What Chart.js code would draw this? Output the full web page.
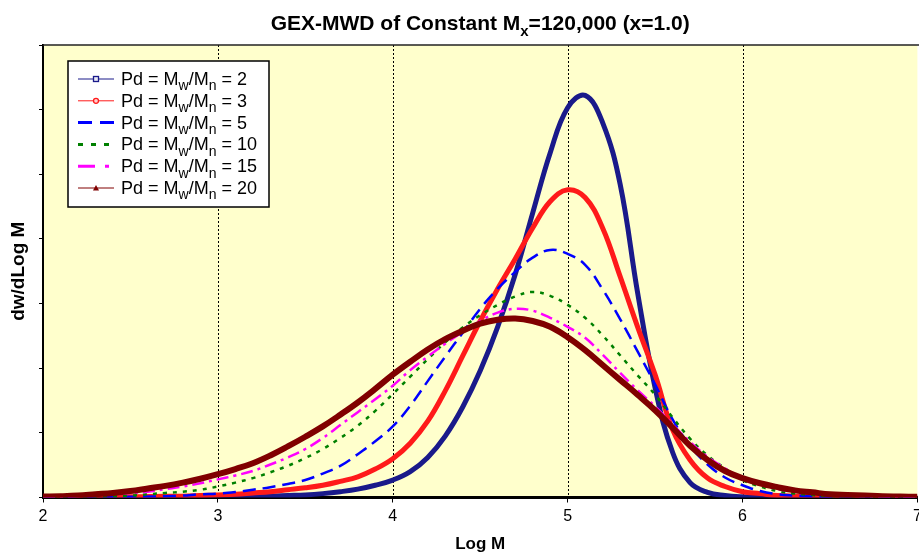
<!DOCTYPE html>
<html>
<head>
<meta charset="utf-8">
<title>GEX-MWD</title>
<script src="https://cdn.jsdelivr.net/npm/chart.js@4.4.0/dist/chart.umd.min.js"></script>
<style>
  html, body { margin: 0; padding: 0; background: #fff; overflow: hidden; }
  #wrap { width: 930px; height: 555px; }
</style>
</head>
<body>
<div id="wrap"><canvas id="mwd"></canvas></div>
<script>
// Log M axis, 0.1 steps
const logM = [
  2.0, 2.1, 2.2, 2.3, 2.4, 2.5, 2.6, 2.7, 2.8, 2.9,
  3.0, 3.1, 3.2, 3.3, 3.4, 3.5, 3.6, 3.7, 3.8, 3.9,
  4.0, 4.1, 4.2, 4.3, 4.4, 4.5, 4.6, 4.7, 4.8, 4.9,
  5.0, 5.1, 5.2, 5.3, 5.4, 5.5, 5.6, 5.7, 5.8, 5.9,
  6.0, 6.1, 6.2, 6.3, 6.4, 6.5, 6.6, 6.7, 6.8, 6.9, 7.0
];

// dw/dLog M for each polydispersity
const pd2 = [
  0, 0, 0, 0, 0, 0, 0, 0, 0.0005, 0.0005,
  0.001, 0.001, 0.002, 0.002, 0.003, 0.004, 0.006, 0.009, 0.013, 0.019,
  0.027, 0.040, 0.062, 0.095, 0.140, 0.196, 0.264, 0.345, 0.440, 0.533,
  0.603, 0.622, 0.580, 0.485, 0.317, 0.170, 0.070, 0.023, 0.008, 0.003,
  0.001, 0.0005, 0, 0, 0, 0, 0, 0, 0, 0, 0
];
const pd3 = [
  0.0005, 0.0005, 0.001, 0.001, 0.001, 0.001, 0.0015, 0.002, 0.002, 0.003,
  0.004, 0.005, 0.007, 0.009, 0.012, 0.015, 0.019, 0.025, 0.032, 0.044,
  0.060, 0.084, 0.118, 0.165, 0.219, 0.273, 0.323, 0.369, 0.417, 0.458,
  0.476, 0.464, 0.417, 0.342, 0.264, 0.190, 0.105, 0.058, 0.030, 0.017,
  0.009, 0.006, 0.003, 0.002, 0.0015, 0.001, 0.0005, 0.0005, 0, 0, 0
];
const pd5 = [
  0, 0, 0, 0.0005, 0.0005, 0.001, 0.0015, 0.002, 0.003, 0.005,
  0.006, 0.0085, 0.012, 0.016, 0.021, 0.027, 0.037, 0.049, 0.067, 0.087,
  0.110, 0.142, 0.180, 0.218, 0.255, 0.292, 0.323, 0.349, 0.371, 0.383,
  0.377, 0.360, 0.322, 0.276, 0.226, 0.175, 0.121, 0.080, 0.051, 0.031,
  0.019, 0.010, 0.005, 0.003, 0.0015, 0.001, 0.0005, 0, 0, 0, 0
];
const pd10 = [
  0.0005, 0.001, 0.001, 0.0015, 0.002, 0.003, 0.005, 0.007, 0.009, 0.012,
  0.017, 0.023, 0.030, 0.039, 0.049, 0.061, 0.075, 0.092, 0.111, 0.134,
  0.160, 0.187, 0.214, 0.240, 0.263, 0.282, 0.298, 0.311, 0.318, 0.312,
  0.298, 0.278, 0.251, 0.220, 0.189, 0.159, 0.124, 0.091, 0.065, 0.045,
  0.027, 0.017, 0.010, 0.006, 0.004, 0.002, 0.0015, 0.001, 0.001, 0.0005, 0.0005
];
const pd15 = [
  0.001, 0.0015, 0.002, 0.004, 0.005, 0.007, 0.009, 0.013, 0.017, 0.022,
  0.028, 0.034, 0.041, 0.051, 0.062, 0.075, 0.092, 0.112, 0.132, 0.152,
  0.173, 0.197, 0.218, 0.238, 0.256, 0.273, 0.286, 0.292, 0.289, 0.278,
  0.264, 0.247, 0.221, 0.193, 0.166, 0.141, 0.113, 0.086, 0.063, 0.045,
  0.029, 0.020, 0.013, 0.010, 0.007, 0.005, 0.003, 0.002, 0.0015, 0.001, 0.001
];
const pd20 = [
  0.0015, 0.002, 0.003, 0.005, 0.007, 0.010, 0.014, 0.018, 0.023, 0.029,
  0.036, 0.044, 0.053, 0.065, 0.079, 0.094, 0.110, 0.128, 0.147, 0.168,
  0.190, 0.210, 0.229, 0.245, 0.258, 0.269, 0.275, 0.277, 0.273, 0.264,
  0.248, 0.228, 0.205, 0.182, 0.159, 0.135, 0.108, 0.080, 0.058, 0.041,
  0.030, 0.022, 0.016, 0.011, 0.008, 0.005, 0.004, 0.003, 0.002, 0.0015, 0.001
];

const pdLabels = ["2", "3", "5", "10", "15", "20"];
const xTicks = [2, 3, 4, 5, 6, 7];

const FONT = "'Liberation Sans', Arial, sans-serif";

// line look for each curve, plus the small sample drawn in the legend
const styles = [
  { color: "#1a1a8a", width: 5,   dash: [],            legW: 1, legDash: [],              marker: "square"   },
  { color: "#ff1a1a", width: 5,   dash: [],            legW: 1, legDash: [],              marker: "circle"   },
  { color: "#0000ff", width: 2.5, dash: [13, 7],       legW: 3, legDash: [14, 8],         marker: null       },
  { color: "#008000", width: 2.5, dash: [4, 6],        legW: 3, legDash: [5, 8],          marker: null       },
  { color: "#ff00ff", width: 2.5, dash: [12, 5, 3, 5], legW: 3, legDash: [17, 10, 4, 10], marker: null       },
  { color: "#800000", width: 6,   dash: [],            legW: 1, legDash: [],              marker: "triangle" },
];

const seriesData = [pd2, pd3, pd5, pd10, pd15, pd20];

const datasets = seriesData.map((vals, i) => ({
  label: "Pd = Mw/Mn = " + pdLabels[i],
  data: vals.map((v, j) => ({ x: logM[j], y: v })),
  borderColor: styles[i].color,
  borderWidth: styles[i].width,
  borderDash: styles[i].dash,
  pointRadius: 0,
  fill: false,
  tension: 0.4,
  order: seriesData.length - i,
}));

// draws a run of [text, isSubscript] pieces starting at x
function drawParts(ctx, parts, x, y, size, bold, subScale) {
  const w = bold ? "bold " : "";
  let cx = x;
  parts.forEach(([txt, sub]) => {
    ctx.font = w + (sub ? Math.round(size * subScale) : size) + "px " + FONT;
    ctx.fillText(txt, cx, sub ? y + size * 0.3 : y);
    cx += ctx.measureText(txt).width;
  });
  return cx - x;
}

function measureParts(ctx, parts, size, bold, subScale) {
  const w = bold ? "bold " : "";
  return parts.reduce((acc, [txt, sub]) => {
    ctx.font = w + (sub ? Math.round(size * subScale) : size) + "px " + FONT;
    return acc + ctx.measureText(txt).width;
  }, 0);
}

function drawMarker(ctx, kind, x, y, color) {
  ctx.save();
  ctx.setLineDash([]);
  ctx.strokeStyle = color;
  ctx.lineWidth = 1.3;
  ctx.fillStyle = "#e8e8f4";
  if (kind === "square") {
    ctx.fillRect(x - 2.5, y - 2.5, 5, 5);
    ctx.strokeRect(x - 2.5, y - 2.5, 5, 5);
  } else if (kind === "circle") {
    ctx.beginPath();
    ctx.arc(x, y, 2.5, 0, Math.PI * 2);
    ctx.fillStyle = "#ffd0d0";
    ctx.fill();
    ctx.stroke();
  } else if (kind === "triangle") {
    ctx.beginPath();
    ctx.moveTo(x, y - 3);
    ctx.lineTo(x + 3, y + 2.5);
    ctx.lineTo(x - 3, y + 2.5);
    ctx.closePath();
    ctx.fillStyle = color;
    ctx.fill();
  }
  ctx.restore();
}

const framePlugin = {
  id: "framePlugin",
  beforeDraw(chart) {
    const { ctx, chartArea: a } = chart;
    ctx.save();
    ctx.fillStyle = "#ffffcc";
    ctx.fillRect(a.left, a.top, a.right - a.left, a.bottom - a.top);
    ctx.restore();
  },
  beforeDatasetsDraw(chart) {
    const { ctx, chartArea: a, scales } = chart;
    const xs = scales.x;
    ctx.save();
    ctx.strokeStyle = "#000";
    ctx.lineWidth = 1;
    ctx.setLineDash([2, 2]);
    xs.ticks.forEach((t) => {
      if (t.value <= xs.min || t.value >= xs.max) return;
      const px = Math.round(xs.getPixelForValue(t.value)) + 0.5;
      ctx.beginPath();
      ctx.moveTo(px, a.top);
      ctx.lineTo(px, a.bottom);
      ctx.stroke();
    });
    ctx.setLineDash([]);
    ctx.lineWidth = 1.5;
    ctx.strokeStyle = "#222";
    ctx.beginPath();
    ctx.moveTo(a.left, a.top);
    ctx.lineTo(a.right + 12, a.top);
    ctx.stroke();
    ctx.restore();
  },
  afterDraw(chart) {
    const { ctx, chartArea: a } = chart;
    ctx.save();
    ctx.fillStyle = "#000";
    ctx.textBaseline = "alphabetic";

    // title with subscript x
    const title = [["GEX-MWD of Constant M", false], ["x", true], ["=120,000 (x=1.0)", false]];
    const tw = measureParts(ctx, title, 21, true, 0.72);
    drawParts(ctx, title, (a.left + a.right) / 2 - tw / 2, 30, 21, true, 0.72);

    // legend box
    const bx = 68, by = 61, bw = 201, bh = 146;
    ctx.fillStyle = "#fff";
    ctx.fillRect(bx, by, bw, bh);
    ctx.strokeStyle = "#000";
    ctx.lineWidth = 1.5;
    ctx.strokeRect(bx, by, bw, bh);

    pdLabels.forEach((lab, i) => {
      const s = styles[i];
      const y = 79 + i * 21.8;
      ctx.strokeStyle = s.color;
      ctx.lineWidth = s.legW;
      ctx.setLineDash(s.legDash);
      ctx.beginPath();
      ctx.moveTo(78, y);
      ctx.lineTo(114, y);
      ctx.stroke();
      ctx.setLineDash([]);
      if (s.marker) drawMarker(ctx, s.marker, 96, y, s.color);

      ctx.fillStyle = "#000";
      const parts = [["Pd = M", false], ["w", true], ["/M", false], ["n", true], [" = " + lab, false]];
      drawParts(ctx, parts, 121, y + 6, 18, false, 0.78);
    });
    ctx.restore();
  },
};

new Chart(document.getElementById("mwd"), {
  type: "line",
  data: { datasets },
  plugins: [framePlugin],
  options: {
    responsive: true,
    maintainAspectRatio: false,
    animation: false,
    layout: { padding: { top: 45, right: 12.6, left: 0, bottom: 0 } },
    plugins: { legend: { display: false }, tooltip: { enabled: false } },
    scales: {
      x: {
        type: "linear",
        min: 2,
        max: 7,
        afterBuildTicks: (scale) => { scale.ticks = xTicks.map((v) => ({ value: v })); },
        afterFit: (scale) => { scale.height = 57.5; },
        ticks: { color: "#000", font: { family: FONT, size: 16 }, padding: 4 },
        grid: { drawOnChartArea: false, drawTicks: true, tickLength: 5, color: "#000", lineWidth: 1 },
        border: { display: true, color: "#000", width: 3 },
        title: {
          display: true,
          text: "Log M",
          color: "#000",
          font: { family: FONT, size: 17, weight: "bold" },
          padding: { top: 0, bottom: 0 },
        },
      },
      y: {
        min: 0,
        max: 0.7,
        ticks: { display: false, stepSize: 0.1 },
        afterFit: (scale) => { scale.width = 43; },
        grid: { drawOnChartArea: false, drawTicks: true, tickLength: 4, color: "#000", lineWidth: 1 },
        border: { display: true, color: "#000", width: 2 },
        title: {
          display: true,
          text: "dw/dLog M",
          color: "#000",
          font: { family: FONT, size: 19, weight: "bold" },
          padding: { top: 7, bottom: 0 },
        },
      },
    },
  },
});
</script>
</body>
</html>
